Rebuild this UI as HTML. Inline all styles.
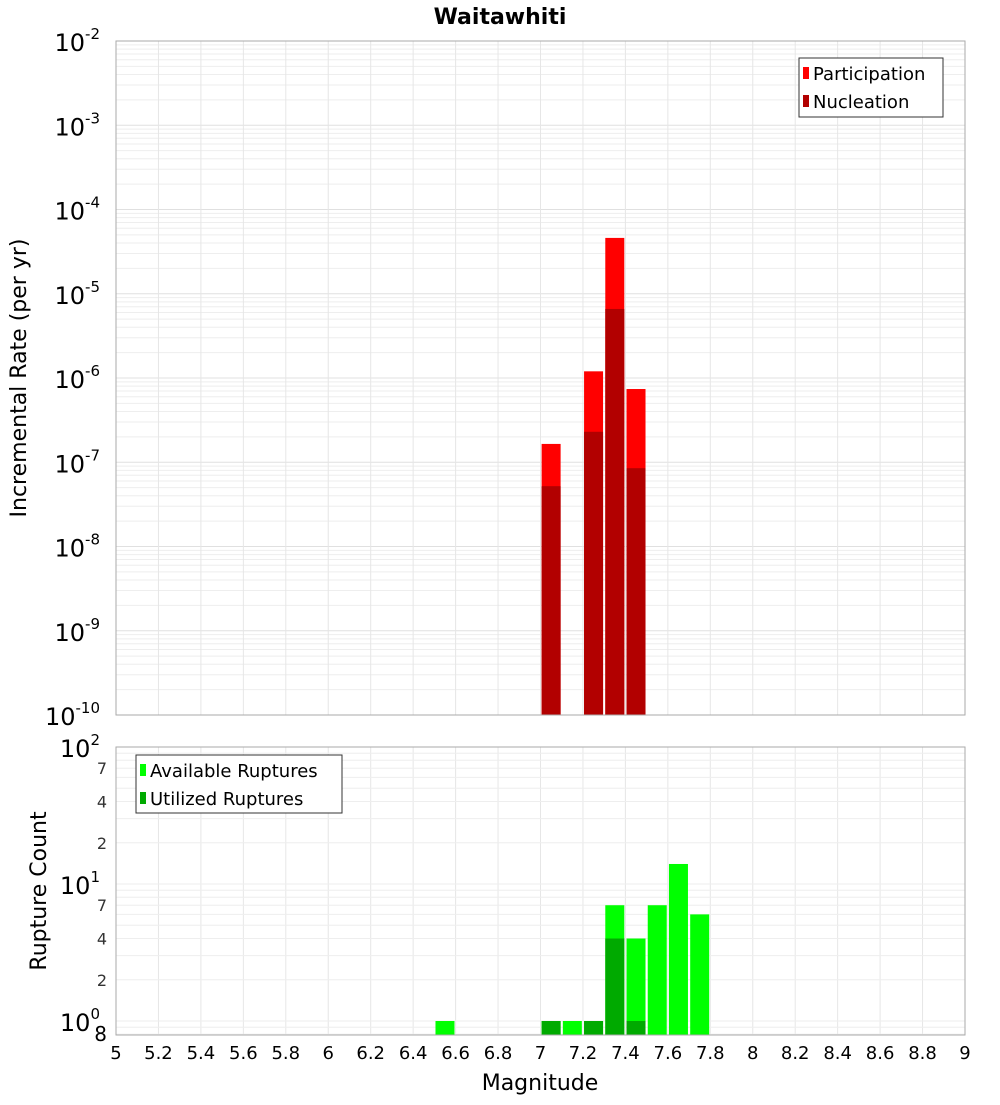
<!DOCTYPE html>
<html><head><meta charset="utf-8"><style>
body{margin:0;background:#fff;font-family:"Liberation Sans","DejaVu Sans",sans-serif}
svg text{font-family:"DejaVu Sans","Liberation Sans",sans-serif}
</style></head><body>
<svg id="c" width="1000" height="1100" xmlns="http://www.w3.org/2000/svg">
<text x="500" y="24" text-anchor="middle" font-size="22" font-weight="bold">Waitawhiti</text>
<g id="topPanel"></g>
<g id="botPanel"></g>
<text x="540" y="1090" text-anchor="middle" font-size="22">Magnitude</text>
<text transform="translate(26,378) rotate(-90)" text-anchor="middle" font-size="22">Incremental Rate (per yr)</text>
<text transform="translate(46,891) rotate(-90)" text-anchor="middle" font-size="22">Rupture Count</text>
</svg>
<script>
const mags=[7.05,7.25,7.35,7.45];
const participation=[1.65e-7,1.2e-6,4.6e-5,7.4e-7];
const nucleation=[5.2e-8,2.3e-7,6.6e-6,8.5e-8];
const cMags=[6.55,7.05,7.15,7.25,7.35,7.45,7.55,7.65,7.75];
const available=[1,1,1,1,7,4,7,14,6];
const utilized=[0,1,0,1,4,1,0,0,0];
const xTicks=["5","5.2","5.4","5.6","5.8","6","6.2","6.4","6.6","6.8","7","7.2","7.4","7.6","7.8","8","8.2","8.4","8.6","8.8","9"];
const NS="http://www.w3.org/2000/svg";
const L=116,R=965;
const x=m=>L+(m-5)/4*(R-L);
const yT=v=>41+(-2-Math.log10(v))*84.25;
const yB=v=>1021-Math.log10(v)*137;
function mk(p,t,a){const e=document.createElementNS(NS,t);for(const k in a)e.setAttribute(k,a[k]);p.appendChild(e);return e;}
const topG=document.getElementById('topPanel'),botG=document.getElementById('botPanel'),svgEl=document.getElementById('c');
for(let d=-10;d<-2;d++)for(let k=1;k<10;k++){const y=yT(k*Math.pow(10,d));
 const g=mk(topG,'line',{x1:L,x2:R,y1:y,y2:y,stroke:k==1?'#e0e0e0':'#eeeeee','stroke-width':1});
 
 }
xTicks.forEach(t=>{const X=x(+t);const g=mk(topG,'line',{x1:X,x2:X,y1:41,y2:715,stroke:'#e6e6e6'});
 
 
 const h=mk(botG,'line',{x1:X,x2:X,y1:747,y2:1035,stroke:'#e6e6e6'});
 
 
 const tx=mk(svgEl,'text',{x:X,y:1059,'text-anchor':'middle','font-size':18});tx.textContent=t;
 
 });
for(let d=-10;d<=-2;d++){const y=yT(Math.pow(10,d));
 const t=mk(topG,'text',{x:100,y:y+10,'text-anchor':'end','font-size':24});
 t.innerHTML='10<tspan dy="-12" font-size="15">'+d+'</tspan>';
 
 }
const bw=19;
mags.forEach((m,i)=>{
 const a=mk(topG,'rect',{x:x(m)-bw/2,y:yT(participation[i]),width:bw,height:715-yT(participation[i]),fill:'#ff0000'});
 
 
 const b=mk(topG,'rect',{x:x(m)-bw/2,y:yT(nucleation[i]),width:bw,height:715-yT(nucleation[i]),fill:'#b20000'});
 
 });
const f1=mk(topG,'rect',{x:L,y:41,width:R-L,height:674,fill:'none',stroke:'#aaa'});


for(let d=-1;d<2;d++)for(let k=1;k<10;k++){const v=k*Math.pow(10,d);if(v<0.8)continue;const y=yB(v);
 const g=mk(botG,'line',{x1:L,x2:R,y1:y,y2:y,stroke:'#eeeeee'});
 
 }
[[0,'0'],[1,'1'],[2,'2']].forEach(([d,s])=>{const y=yB(Math.pow(10,d));
 const t=mk(botG,'text',{x:100,y:y+10,'text-anchor':'end','font-size':24});
 t.innerHTML='10<tspan dy="-12" font-size="15">'+s+'</tspan>';
 
 });
[2,4,7,20,40,70].forEach(v=>{const t=mk(botG,'text',{x:107,y:yB(v)+6,'text-anchor':'end','font-size':16,fill:'#333'});t.textContent=String(v)[0];
 
 });
const t8=mk(botG,'text',{x:107,y:1041,'text-anchor':'end','font-size':20});t8.textContent='8';


cMags.forEach((m,i)=>{
 const a=mk(botG,'rect',{x:x(m)-bw/2,y:yB(available[i]),width:bw,height:1035-yB(available[i]),fill:'#00ff00'});
 
 
 if(utilized[i]>0){const b=mk(botG,'rect',{x:x(m)-bw/2,y:yB(utilized[i]),width:bw,height:1035-yB(utilized[i]),fill:'#00aa00'});
 
 }});
const f2=mk(botG,'rect',{x:L,y:747,width:R-L,height:288,fill:'none',stroke:'#aaa'});


function legend(p,x0,y0,w,h,items){const g=mk(p,'g',{});
 
 
 mk(g,'rect',{x:x0,y:y0,width:w,height:h,fill:'#fff',stroke:'#333'});
 items.forEach(([c,s],i)=>{const yy=y0+15+i*28;
  const r=mk(g,'rect',{x:x0+4,y:yy-6,width:6,height:12,fill:c});
  
  
  const t=mk(g,'text',{x:x0+14,y:yy+7,'font-size':18});t.textContent=s;
  
  });}
legend(topG,799,58,144,59,[['#ff0000','Participation'],['#b20000','Nucleation']]);
legend(botG,136,755,206,58,[['#00ff00','Available Ruptures'],['#00aa00','Utilized Ruptures']]);
</script>
</body></html>
